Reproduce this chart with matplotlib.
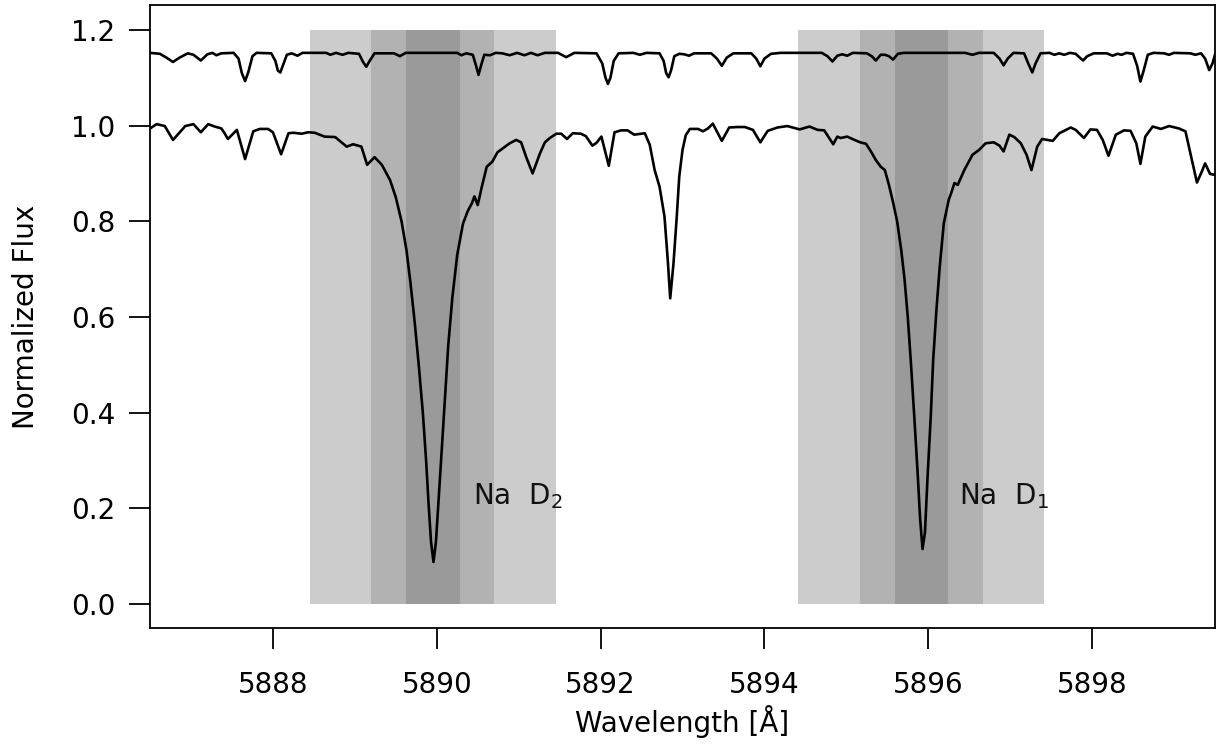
import matplotlib
matplotlib.use("Agg")
import matplotlib.pyplot as plt

# ---------------- data ----------------
# upper (telluric / reference) spectrum, offset to ~1.15
upper_wl = [5886.50, 5886.62, 5886.70, 5886.78, 5886.86, 5886.96, 5887.03, 5887.12, 5887.20, 5887.26,
            5887.31, 5887.37, 5887.52, 5887.58, 5887.62, 5887.66, 5887.70, 5887.75, 5887.80, 5887.98,
            5888.03, 5888.06, 5888.09, 5888.12, 5888.17, 5888.23, 5888.30, 5888.36, 5888.65, 5888.70,
            5888.77, 5888.85, 5888.92, 5889.05, 5889.10, 5889.14, 5889.18, 5889.24, 5889.48, 5889.55,
            5889.62, 5890.25, 5890.30, 5890.36, 5890.44, 5890.48, 5890.51, 5890.54, 5890.58, 5890.65,
            5890.72, 5890.80, 5890.89, 5890.98, 5891.07, 5891.15, 5891.23, 5891.32, 5891.48, 5891.58,
            5891.68, 5891.95, 5892.02, 5892.06, 5892.09, 5892.12, 5892.16, 5892.22, 5892.40, 5892.48,
            5892.56, 5892.72, 5892.77, 5892.80, 5892.83, 5892.86, 5892.90, 5892.96, 5893.02, 5893.08,
            5893.14, 5893.35, 5893.42, 5893.48, 5893.54, 5893.62, 5893.84, 5893.90, 5893.95, 5894.00,
            5894.08, 5894.20, 5894.70, 5894.77, 5894.83, 5894.89, 5894.95, 5895.01, 5895.08, 5895.25,
            5895.31, 5895.36, 5895.42, 5895.47, 5895.52, 5895.57, 5895.63, 5895.70, 5896.45, 5896.54,
            5896.62, 5896.80, 5896.87, 5896.92, 5896.97, 5897.04, 5897.17, 5897.22, 5897.27, 5897.31,
            5897.37, 5897.48, 5897.54, 5897.60, 5897.66, 5897.73, 5897.80, 5897.85, 5897.89, 5897.94,
            5898.02, 5898.18, 5898.25, 5898.31, 5898.36, 5898.42, 5898.50, 5898.55, 5898.59, 5898.63,
            5898.68, 5898.75, 5898.88, 5898.94, 5899.00, 5899.20, 5899.26, 5899.33, 5899.38, 5899.43,
            5899.47, 5899.50]
upper_flux = [1.152, 1.150, 1.142, 1.133, 1.142, 1.151, 1.148, 1.136, 1.149, 1.152,
              1.147, 1.151, 1.152, 1.140, 1.110, 1.093, 1.112, 1.145, 1.152, 1.151,
              1.135, 1.115, 1.111, 1.125, 1.148, 1.151, 1.146, 1.152, 1.152, 1.148,
              1.152, 1.148, 1.152, 1.150, 1.133, 1.123, 1.135, 1.151, 1.151, 1.145,
              1.152, 1.152, 1.147, 1.151, 1.148, 1.125, 1.106, 1.125, 1.148, 1.147,
              1.152, 1.151, 1.147, 1.152, 1.147, 1.152, 1.147, 1.152, 1.152, 1.143,
              1.152, 1.151, 1.130, 1.100, 1.087, 1.100, 1.135, 1.151, 1.152, 1.148,
              1.152, 1.151, 1.135, 1.110, 1.101, 1.115, 1.145, 1.150, 1.149, 1.146,
              1.151, 1.151, 1.140, 1.125, 1.142, 1.151, 1.151, 1.140, 1.124, 1.140,
              1.150, 1.152, 1.152, 1.145, 1.134, 1.146, 1.149, 1.146, 1.152, 1.151,
              1.145, 1.136, 1.148, 1.148, 1.145, 1.138, 1.150, 1.152, 1.152, 1.148,
              1.152, 1.152, 1.140, 1.126, 1.140, 1.152, 1.151, 1.130, 1.111, 1.130,
              1.151, 1.152, 1.148, 1.151, 1.148, 1.152, 1.150, 1.142, 1.136, 1.145,
              1.151, 1.151, 1.146, 1.150, 1.148, 1.152, 1.150, 1.125, 1.092, 1.115,
              1.148, 1.152, 1.151, 1.148, 1.152, 1.151, 1.148, 1.151, 1.140, 1.116,
              1.130, 1.148]

# lower (stellar) spectrum
lower_wl = [5886.50, 5886.58, 5886.68, 5886.78, 5886.93, 5887.03, 5887.12, 5887.21, 5887.29, 5887.37,
            5887.41, 5887.45, 5887.56, 5887.66, 5887.76, 5887.84, 5887.94, 5888.00, 5888.10, 5888.19,
            5888.25, 5888.35, 5888.43, 5888.51, 5888.63, 5888.76, 5888.90, 5888.98, 5889.08, 5889.15,
            5889.24, 5889.33, 5889.43, 5889.50, 5889.57, 5889.63, 5889.68, 5889.73, 5889.78, 5889.83,
            5889.87, 5889.90, 5889.93, 5889.96, 5889.99, 5890.02, 5890.06, 5890.10, 5890.14, 5890.19,
            5890.25, 5890.32, 5890.38, 5890.43, 5890.46, 5890.50, 5890.55, 5890.61, 5890.68, 5890.74,
            5890.81, 5890.89, 5890.97, 5891.03, 5891.09, 5891.17, 5891.26, 5891.32, 5891.38, 5891.46,
            5891.52, 5891.59, 5891.66, 5891.76, 5891.82, 5891.90, 5891.95, 5892.01, 5892.10, 5892.17,
            5892.25, 5892.33, 5892.41, 5892.54, 5892.60, 5892.66, 5892.72, 5892.78, 5892.82, 5892.85,
            5892.89, 5892.93, 5892.96, 5893.00, 5893.04, 5893.09, 5893.19, 5893.25, 5893.31, 5893.37,
            5893.41, 5893.48, 5893.57, 5893.67, 5893.76, 5893.86, 5893.95, 5894.04, 5894.16, 5894.28,
            5894.43, 5894.55, 5894.65, 5894.73, 5894.79, 5894.84, 5894.89, 5894.93, 5895.01, 5895.10,
            5895.17, 5895.24, 5895.30, 5895.36, 5895.42, 5895.47, 5895.52, 5895.57, 5895.62, 5895.67,
            5895.71, 5895.75, 5895.79, 5895.83, 5895.87, 5895.90, 5895.93, 5895.96, 5895.99, 5896.03,
            5896.06, 5896.10, 5896.14, 5896.19, 5896.25, 5896.28, 5896.32, 5896.36, 5896.44, 5896.54,
            5896.62, 5896.70, 5896.80, 5896.87, 5896.92, 5896.99, 5897.05, 5897.13, 5897.20, 5897.26,
            5897.33, 5897.39, 5897.52, 5897.60, 5897.68, 5897.74, 5897.80, 5897.90, 5897.98, 5898.06,
            5898.13, 5898.20, 5898.29, 5898.39, 5898.47, 5898.54, 5898.59, 5898.65, 5898.74, 5898.84,
            5898.94, 5899.06, 5899.14, 5899.20, 5899.28, 5899.34, 5899.38, 5899.44, 5899.50]
lower_flux = [0.994, 1.003, 0.999, 0.970, 0.999, 1.003, 0.986, 1.003, 0.998, 0.994,
              0.984, 0.972, 0.991, 0.930, 0.988, 0.993, 0.993, 0.986, 0.940, 0.984,
              0.985, 0.983, 0.986, 0.985, 0.977, 0.976, 0.956, 0.961, 0.956, 0.918,
              0.934, 0.918, 0.886, 0.850, 0.800, 0.740, 0.670, 0.590, 0.500, 0.400,
              0.300, 0.210, 0.130, 0.088, 0.130, 0.210, 0.320, 0.430, 0.540, 0.640,
              0.730, 0.795, 0.822, 0.838, 0.852, 0.834, 0.872, 0.914, 0.925, 0.944,
              0.953, 0.963, 0.970, 0.965, 0.935, 0.900, 0.942, 0.965, 0.974, 0.983,
              0.983, 0.972, 0.984, 0.983, 0.978, 0.958, 0.964, 0.977, 0.916, 0.986,
              0.990, 0.990, 0.981, 0.984, 0.960, 0.907, 0.872, 0.810, 0.719, 0.639,
              0.712, 0.810, 0.893, 0.949, 0.980, 0.993, 0.993, 0.988, 0.994, 1.004,
              0.991, 0.968, 0.996, 0.997, 0.997, 0.991, 0.965, 0.989, 0.996, 0.999,
              0.992, 0.998, 0.991, 0.990, 0.974, 0.961, 0.977, 0.974, 0.977, 0.970,
              0.965, 0.962, 0.946, 0.928, 0.914, 0.907, 0.876, 0.840, 0.800, 0.740,
              0.680, 0.600, 0.500, 0.390, 0.275, 0.180, 0.115, 0.150, 0.260, 0.390,
              0.510, 0.615, 0.705, 0.796, 0.845, 0.859, 0.880, 0.876, 0.907, 0.939,
              0.949, 0.963, 0.965, 0.958, 0.946, 0.981, 0.976, 0.963, 0.939, 0.907,
              0.956, 0.972, 0.968, 0.984, 0.991, 0.996, 0.991, 0.974, 0.992, 0.991,
              0.970, 0.937, 0.981, 0.990, 0.989, 0.963, 0.920, 0.977, 0.998, 0.993,
              0.999, 0.994, 0.988, 0.942, 0.881, 0.904, 0.921, 0.899, 0.897]

# shaded windows around Na D2 and Na D1 (outer, middle, inner)
band_left = [[5888.45, 5889.20, 5889.62], [5894.41, 5895.17, 5895.59]]
band_right = [[5891.45, 5890.70, 5890.28], [5897.41, 5896.67, 5896.24]]
band_colors = ["#cccccc", "#b2b2b2", "#9a9a9a"]
band_ymin, band_ymax = 0.0, 1.2

labels_x = [5890.44, 5896.38]
labels_y = [0.225, 0.225]
labels_txt = [r"Na  D$_2$", r"Na  D$_1$"]

xticks = [5888, 5890, 5892, 5894, 5896, 5898]
yticks = [0.0, 0.2, 0.4, 0.6, 0.8, 1.0, 1.2]

# ---------------- plot ----------------
plt.rcParams['font.family'] = ['DejaVu Sans']
plt.rcParams['mathtext.fontset'] = 'dejavusans'

fig = plt.figure(figsize=(12.18, 7.47), dpi=100)
ax = fig.add_axes([0.1232, 0.1593, 0.8743, 0.834])

for lefts, rights in zip(band_left, band_right):
    for l, r, c in zip(lefts, rights, band_colors):
        ax.fill_between([l, r], [band_ymin, band_ymin], [band_ymax, band_ymax],
                        color=c, linewidth=0, zorder=1)

ax.plot(upper_wl, upper_flux, color='black', lw=1.9, zorder=3, solid_joinstyle='round')
ax.plot(lower_wl, lower_flux, color='black', lw=1.9, zorder=3, solid_joinstyle='round')

for x, y, t in zip(labels_x, labels_y, labels_txt):
    ax.text(x, y, t, fontsize=20, va='center', ha='left', color='#111111', zorder=4)

ax.set_xlim(5886.5, 5899.5)
ax.set_ylim(-0.05, 1.252)
ax.set_xticks(xticks)
ax.set_xticklabels([str(t) for t in xticks])
ax.set_yticks(yticks)
ax.set_yticklabels([f"{t:.1f}" for t in yticks])
ax.tick_params(axis='both', direction='out', length=15, width=1.3, labelsize=20,
               top=False, right=False)
ax.tick_params(axis='y', pad=10)
ax.tick_params(axis='x', pad=16)
for s in ax.spines.values():
    s.set_linewidth(1.3)

ax.set_xlabel("Wavelength [Å]", fontsize=20, labelpad=4)
ax.set_ylabel("Normalized Flux", fontsize=20, labelpad=22)

fig.savefig("out.png", dpi=100)
